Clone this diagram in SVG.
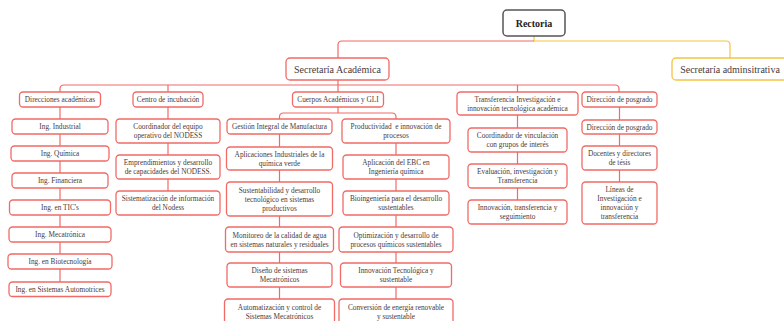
<svg xmlns="http://www.w3.org/2000/svg" width="784" height="321" viewBox="0 0 784 321">
<style>
.n rect{fill:#fff;stroke:#f06a66;stroke-width:1.3}
.n text{font-family:"Liberation Serif","DejaVu Serif",serif;font-size:7.3px;fill:#4a3a3a;text-anchor:middle}
.big text{font-size:10px}
.c path{fill:none;stroke:#f06a66;stroke-width:1.2}
.c path.y{stroke:#f5c443}
</style>
<rect width="784" height="321" fill="#fff"/>
<g class="c" id="connectors">
<path class="y" d="M534,36 V41 H726 Q730,41 730,45 V58"/>
<path d="M534,41 H342 Q338,41 338,45 V58"/>
<path d="M338,80 V92"/>
<path d="M60,92 V89 Q60,85 64,85 H615 Q619,85 619,89 V92"/>
<path d="M168,85 V92"/>
<path d="M517.5,85 V92"/>
<path d="M60,107 V282"/>
<path d="M168,107 V191"/>
<path d="M338,107 V113"/>
<path d="M279.5,119 V117 Q279.5,113 283.5,113 H392 Q396,113 396,117 V119"/>
<path d="M279.5,119 V299"/>
<path d="M396,119 V299"/>
<path d="M517.5,115 V200"/>
<path d="M619.5,107 V182"/>
</g>
<g id="rectoria"><rect x="503" y="10" width="62" height="26" rx="4" fill="#fff" stroke="#555" stroke-width="1.5"/><text x="534" y="26.5" font-family="Liberation Serif,serif" font-size="10" font-weight="bold" fill="#222" text-anchor="middle">Rectoria</text></g>
<g id="sec_acad" class="n big"><rect x="286" y="58" width="103" height="22" rx="4"/><text x="337.5" y="72.5">Secretaría Académica</text></g>
<g id="sec_admin" class="n big"><rect x="672" y="58" width="116" height="22" rx="4" style="stroke:#f5c443"/><text x="730" y="72.5">Secretaría adminsitrativa</text></g>

<g id="dir_acad" class="n"><rect x="19.5" y="92" width="81" height="15" rx="3.5"/><text x="60" y="102.1">Direcciones académicas</text></g>
<g id="centro" class="n"><rect x="133" y="92" width="70" height="15" rx="3.5"/><text x="168" y="102.1">Centro de incubación</text></g>
<g id="cuerpos" class="n"><rect x="292.5" y="92" width="91" height="15" rx="3.5"/><text x="338" y="102.1">Cuerpos Académicos y GLI</text></g>
<g id="transfer" class="n"><rect x="457" y="92" width="121" height="23" rx="3.5"/><text x="517.5" y="101.6">Transferencia Investigación e</text><text x="517.5" y="110.6">innovación tecnológica académica</text></g>
<g id="posgrado" class="n"><rect x="582" y="92" width="75" height="15" rx="3.5"/><text x="619.5" y="102.1">Dirección de posgrado</text></g>

<g id="ing_ind" class="n"><rect x="12" y="119" width="96" height="15" rx="3.5"/><text x="60" y="129.1">Ing. Industrial</text></g>
<g id="ing_qui" class="n"><rect x="11" y="146" width="98" height="15" rx="3.5"/><text x="60" y="156.1">Ing. Química</text></g>
<g id="ing_fin" class="n"><rect x="12" y="173" width="96" height="15" rx="3.5"/><text x="60" y="183.1">Ing. Financiera</text></g>
<g id="ing_tic" class="n"><rect x="9.5" y="200" width="101" height="15" rx="3.5"/><text x="60" y="210.1">Ing. en TIC's</text></g>
<g id="ing_mec" class="n"><rect x="9" y="227" width="102" height="15" rx="3.5"/><text x="60" y="237.1">Ing. Mecatrónica</text></g>
<g id="ing_bio" class="n"><rect x="8" y="254" width="104" height="15" rx="3.5"/><text x="60" y="264.1">Ing. en Biotecnología</text></g>
<g id="ing_aut" class="n"><rect x="9" y="282" width="102" height="14.5" rx="3.5"/><text x="60" y="291.8">Ing. en Sistemas Automotrices</text></g>

<g id="coord_nodess" class="n"><rect x="116" y="119" width="104" height="24" rx="3.5"/><text x="168" y="129.1">Coordinador del equipo</text><text x="168" y="138.1">operativo del NODESS</text></g>
<g id="empr" class="n"><rect x="116" y="155" width="104" height="24" rx="3.5"/><text x="168" y="165.1">Emprendimientos y desarrollo</text><text x="168" y="174.1">de capacidades del NODESS.</text></g>
<g id="sist" class="n"><rect x="116" y="191" width="104" height="24" rx="3.5"/><text x="168" y="201.1">Sistematización de información</text><text x="168" y="210.1">del Nodess</text></g>

<g id="gestion" class="n"><rect x="227" y="119" width="105" height="15" rx="3.5"/><text x="279.5" y="129.1">Gestión Integral de Manufactura</text></g>
<g id="aplic_ind" class="n"><rect x="226.5" y="147" width="106" height="23" rx="3.5"/><text x="279.5" y="156.6">Aplicaciones Industriales de la</text><text x="279.5" y="165.6">química verde</text></g>
<g id="sustent" class="n"><rect x="226.5" y="182" width="106" height="34" rx="3.5"/><text x="279.5" y="192.6">Sustentabilidad y desarrollo</text><text x="279.5" y="201.6">tecnológico en sistemas</text><text x="279.5" y="210.6">productivos</text></g>
<g id="monit" class="n"><rect x="225.5" y="227" width="108" height="25" rx="3.5"/><text x="279.5" y="237.6">Monitoreo de la calidad de agua</text><text x="279.5" y="246.6">en sistemas naturales y residuales</text></g>
<g id="diseno" class="n"><rect x="227" y="263" width="105" height="24" rx="3.5"/><text x="279.5" y="273.1">Diseño de sistemas</text><text x="279.5" y="282.1">Mecatrónicos</text></g>
<g id="automat" class="n"><rect x="224.5" y="299" width="110" height="25" rx="3.5"/><text x="279.5" y="309.6">Automatización y control de</text><text x="279.5" y="318.6">Sistemas Mecatrónicos</text></g>

<g id="product" class="n"><rect x="342" y="119" width="108" height="24" rx="3.5"/><text x="396" y="129.1" xml:space="preserve">Productividad  e innovación de</text><text x="396" y="138.1">procesos</text></g>
<g id="ebc" class="n"><rect x="343" y="155" width="106" height="24" rx="3.5"/><text x="396" y="165.1">Aplicación del EBC en</text><text x="396" y="174.1">Ingeniería química</text></g>
<g id="bioing" class="n"><rect x="343" y="191" width="106" height="24" rx="3.5"/><text x="396" y="201.1">Bioingeniería para el desarrollo</text><text x="396" y="210.1">sustentables</text></g>
<g id="optim" class="n"><rect x="339" y="227" width="114" height="25" rx="3.5"/><text x="396" y="237.6">Optimización y desarrollo de</text><text x="396" y="246.6">procesos químicos sustentables</text></g>
<g id="innov_tec" class="n"><rect x="340.5" y="263" width="111" height="24" rx="3.5"/><text x="396" y="273.1">Innovación Tecnológica y</text><text x="396" y="282.1">sustentable</text></g>
<g id="conversion" class="n"><rect x="339" y="299" width="114" height="25" rx="3.5"/><text x="396" y="309.6">Conversión de energía renovable</text><text x="396" y="318.6">y sustentable</text></g>

<g id="coord_vinc" class="n"><rect x="468" y="128" width="99" height="24" rx="3.5"/><text x="517.5" y="138.1">Coordinador de vinculación</text><text x="517.5" y="147.1">con grupos de interés</text></g>
<g id="evaluacion" class="n"><rect x="468" y="164" width="99" height="24" rx="3.5"/><text x="517.5" y="174.1">Evaluación, investigación y</text><text x="517.5" y="183.1">Transferencia</text></g>
<g id="innov_trans" class="n"><rect x="468" y="200" width="99" height="24" rx="3.5"/><text x="517.5" y="210.1">Innovación, transferencia y</text><text x="517.5" y="219.1">seguimiento</text></g>

<g id="dir_posgrado2" class="n"><rect x="582" y="120" width="75" height="14" rx="3.5"/><text x="619.5" y="129.6">Dirección de posgrado</text></g>
<g id="docentes" class="n"><rect x="582" y="146" width="75" height="24" rx="3.5"/><text x="619.5" y="156.1">Docentes y directores</text><text x="619.5" y="165.1">de tésis</text></g>
<g id="lineas" class="n"><rect x="582" y="182" width="75" height="42" rx="3.5"/><text x="619.5" y="192.1">Líneas de</text><text x="619.5" y="201.1">Investigación e</text><text x="619.5" y="210.1">innovación y</text><text x="619.5" y="219.1">transferencia</text></g>
</svg>
